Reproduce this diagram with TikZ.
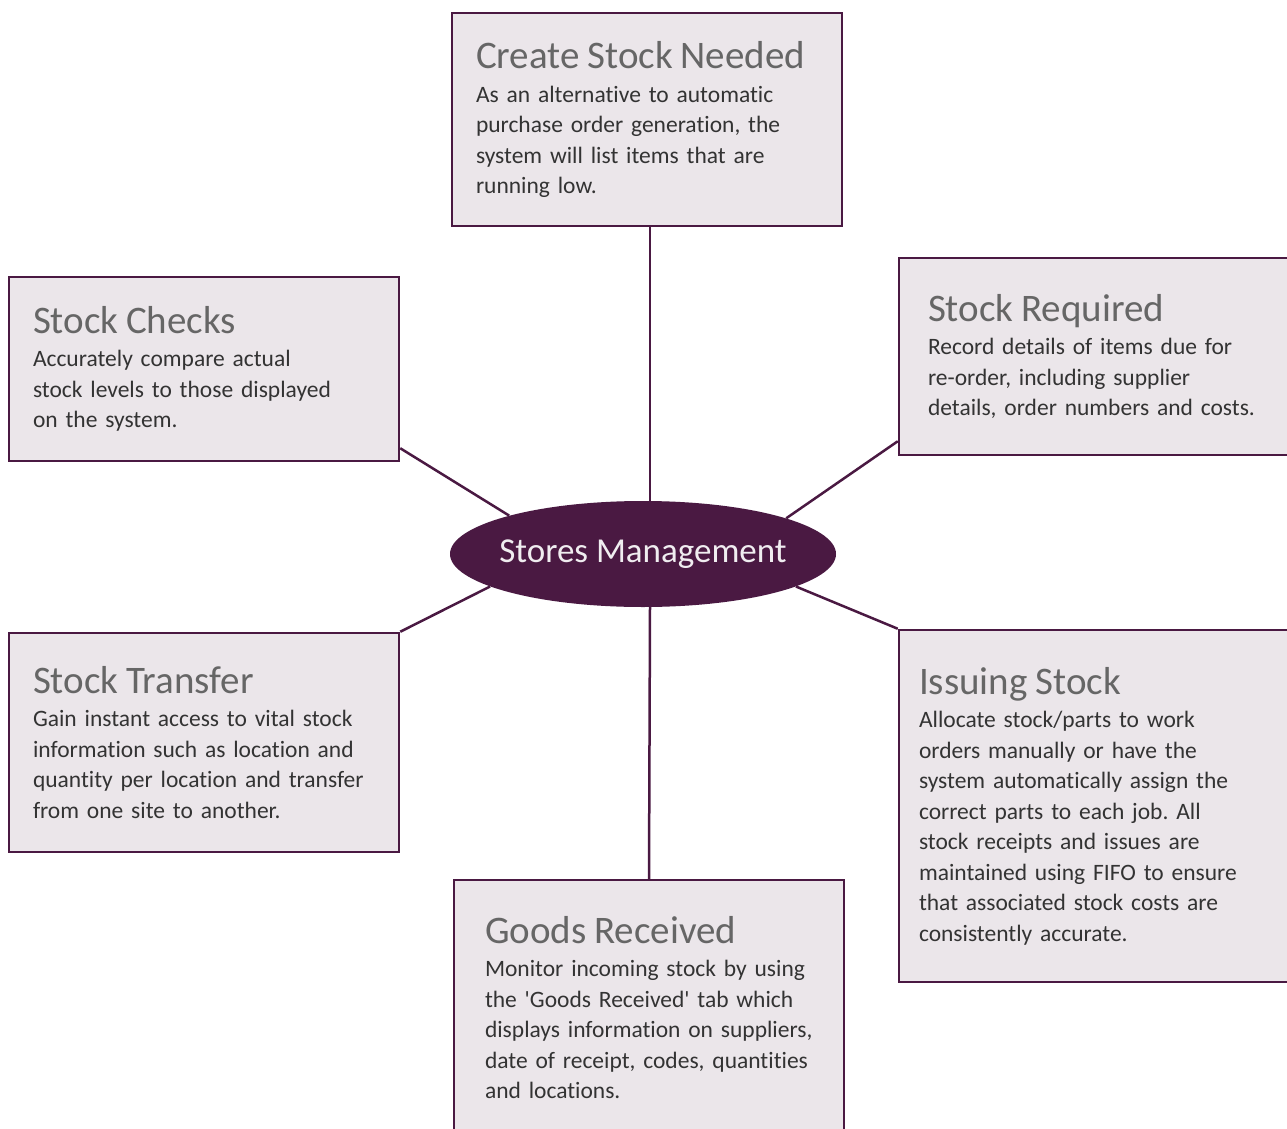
\documentclass[tikz,border=0pt]{standalone}
\usepackage{fontspec}
\setmainfont[Ligatures={TeX,NoCommon}]{Carlito}
\usepackage{tikz}
\usetikzlibrary{positioning, backgrounds}
\usetikzlibrary{shapes.geometric}
\definecolor{plum}{HTML}{4A1942}
\definecolor{boxfill}{HTML}{EBE6EA}
\definecolor{titlegrey}{HTML}{666666}
\definecolor{bodygrey}{HTML}{333333}
\frenchspacing
\newcommand{\boxtitle}[1]{{\fontsize{39}{40}\selectfont\color{titlegrey}#1}\\[3pt]}
\tikzstyle{infobox}=[rectangle,draw=plum,line width=2.5pt,fill=boxfill,
text width=342pt,inner xsep=24pt,align=left,text=bodygrey,
font=\fontsize{23.5}{30.5}\selectfont]
\tikzstyle{hubnode}=[ellipse,fill=plum,minimum width=386pt,
minimum height=106pt,inner xsep=-10pt,inner ysep=0pt,text=white!92!plum,
font=\fontsize{35}{40}\selectfont]
\tikzstyle{spokepath} = [draw=plum,line width=2.5pt]

\begin{document}
\begin{tikzpicture}[x=1pt,y=-1pt]
    \useasboundingbox (0,0) rectangle (1287,1129);
    \clip (0,0) rectangle (1287,1129);
    \node[hubnode] (hub) at (643,554) {Stores Management};
    \node[infobox, minimum height=213pt] (create) at (647,119.5) {\boxtitle{Create Stock Needed}As an alternative to automatic\\ purchase order generation, the\\ system will list items that are\\ running low.};
    \node[infobox, minimum height=184pt] (checks) at (204,369) {\boxtitle{Stock Checks}Accurately compare actual\\ stock levels to those displayed\\ on the system.};
    \node[infobox, minimum height=197pt, inner xsep=29pt, text width=332pt] (required) at (1094,356.5) {\boxtitle{Stock Required}Record details of items due for\\ re-order, including supplier\\ details, order numbers and costs.};
    \node[infobox, minimum height=219pt] (transfer) at (204,742.5) {\boxtitle{Stock Transfer}Gain instant access to vital stock\\ information such as location and\\ quantity per location and transfer\\ from one site to another.};
    \node[infobox, minimum height=352pt, inner xsep=20pt, text width=350pt] (issuing) at (1094,806) {\boxtitle{Issuing Stock}Allocate stock/parts to work\\ orders manually or have the\\ system automatically assign the\\ correct parts to each job. All\\ stock receipts and issues are\\ maintained using FIFO to ensure\\ that associated stock costs are\\ consistently accurate.};
    \node[infobox, minimum height=255pt, inner xsep=31pt, text width=328pt] (goods) at (649,1007.5) {\boxtitle{Goods Received}Monitor incoming stock by using\\ the \textquotesingle Goods Received\textquotesingle{} tab which\\ displays information on suppliers,\\ date of receipt, codes, quantities\\ and locations.};

    \begin{scope}[on background layer]
    \path[spokepath]
    ([xshift=3pt]create.south) edge ([xshift=3pt]create.south |- hub.north)
    (goods.north) edge ([xshift=1pt]goods.north |- hub.south)
    ([yshift=14pt]checks.south east) edge (hub.164.3)
    ([yshift=15pt]required.south west) edge (hub.14.1)
    (transfer.north east) edge (hub.192.9)
    (issuing.north west) edge (hub.348.5);
    \end{scope}
\end{tikzpicture}
\end{document}
